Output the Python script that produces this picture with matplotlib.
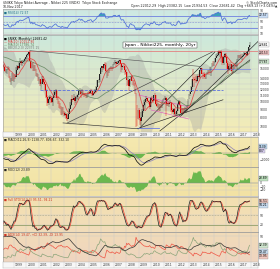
import numpy as np
import pandas as pd
import matplotlib
matplotlib.use("Agg")
import matplotlib.pyplot as plt
from matplotlib.colors import LinearSegmentedColormap
from matplotlib.ticker import FixedLocator, NullLocator, FuncFormatter

# ---------------- data (monthly Nikkei 225) ----------------
close_warmup = [20229, 19997, 19112, 19725, 20974, 20644, 20462, 20629, 19564, 19990, 19076, 19723,
                18649, 16809, 16140, 16807, 15437, 14517, 16678, 18117, 17913, 17655, 18744, 19868]
start_year = 1996
close = [20813, 20125, 21407, 22041, 21956, 22531, 20693, 20167, 21556, 20467, 21020, 19361,
         18330, 18557, 18003, 19151, 20069, 20605, 20331, 18229, 17888, 16459, 16636, 15259,
         16628, 16832, 16527, 15641, 15671, 15830, 16379, 14108, 13406, 13565, 14884, 13842,
         14499, 14367, 15836, 16701, 16111, 17529, 17862, 17436, 17605, 17942, 18558, 18934,
         19539, 19959, 20337, 17974, 16332, 17411, 15727, 16861, 15747, 14539, 14649, 13785,
         13843, 12883, 12999, 13934, 13262, 12969, 11860, 10713, 9774, 10366, 10697, 10542,
         9997, 10587, 11024, 11492, 11763, 10621, 9877, 9619, 9383, 8640, 9215, 8578,
         8339, 8363, 7972, 7831, 8424, 9083, 9563, 10343, 10219, 10560, 10100, 10676,
         10783, 11041, 11715, 11761, 11236, 11858, 11325, 11081, 10823, 10771, 11068, 11488,
         11387, 11740, 11668, 11008, 11276, 11584, 11899, 12413, 13574, 13606, 14872, 16111,
         16649, 16205, 17059, 16906, 15467, 15505, 15456, 16140, 16127, 16399, 16274, 17225,
         17383, 17604, 17287, 17400, 17875, 18138, 17248, 16569, 16785, 16737, 15680, 15307,
         13592, 13603, 12525, 13849, 14338, 13481, 13376, 13072, 11259, 8576, 8512, 8859,
         7994, 7568, 8109, 8828, 9522, 9958, 10356, 10492, 10133, 10034, 9345, 10546,
         10198, 10126, 11089, 11057, 9768, 9382, 9537, 8824, 9369, 9202, 9937, 10228,
         10237, 10624, 9755, 9849, 9693, 9816, 9833, 8955, 8700, 8988, 8434, 8455,
         8803, 9723, 10083, 9521, 8543, 9007, 8695, 8840, 8870, 8928, 9446, 10395,
         11139, 11559, 12398, 13861, 13775, 13677, 13668, 13389, 14456, 14328, 15662, 16291,
         14915, 14841, 14828, 14304, 14632, 15162, 15621, 15425, 16174, 16414, 17460, 17451,
         17674, 18798, 19207, 19520, 20563, 20236, 20585, 18890, 17388, 19083, 19747, 19034,
         17518, 16027, 16759, 16666, 17235, 15576, 16569, 16887, 16450, 17425, 18308, 19114,
         19041, 19119, 18909, 19197, 19651, 20033, 19925, 19646, 20356, 22012, 22681]
high = [20950, 21100, 21500, 22250, 22400, 22750, 22600, 21300, 21800, 21700, 21300, 21050,
        19600, 18900, 18700, 19300, 20300, 20900, 20700, 20400, 18600, 18300, 17000, 16800,
        16900, 17300, 17100, 16600, 16000, 15950, 16800, 16400, 14400, 14000, 15200, 14900,
        14700, 14600, 16400, 16900, 16800, 17800, 18600, 18000, 18100, 18100, 18800, 19000,
        19700, 20100, 20500, 20833, 18200, 17500, 17600, 16900, 16900, 16000, 15000, 14900,
        14200, 13900, 13300, 14500, 14500, 13600, 13000, 12000, 11000, 10900, 11100, 10800,
        10900, 10700, 11900, 11700, 12000, 11900, 10900, 10100, 9800, 9450, 9300, 9300,
        8800, 8600, 8500, 8300, 8500, 9200, 10000, 10400, 11100, 11200, 10800, 10800,
        11000, 11200, 11800, 12200, 11800, 12000, 11900, 11400, 11300, 11200, 11200, 11500,
        11600, 11800, 12000, 11900, 11300, 11700, 11950, 12500, 13600, 13900, 14900, 16400,
        16700, 16800, 17100, 17600, 17500, 15600, 15700, 16300, 16400, 16800, 16500, 17300,
        17600, 18300, 17700, 17900, 17900, 18300, 18262, 17500, 16900, 17500, 16800, 16100,
        15400, 14100, 13700, 13900, 14400, 14600, 13600, 13600, 13100, 11300, 9500, 8900,
        9100, 8100, 8600, 9000, 9600, 10200, 10400, 10800, 10600, 10300, 10100, 10700,
        10900, 10300, 11100, 11400, 11100, 10300, 9800, 9700, 9700, 9700, 10100, 10400,
        10600, 10900, 10700, 9900, 10100, 9900, 10200, 10000, 9100, 9100, 9100, 8700,
        8900, 9900, 10300, 10100, 9600, 9100, 9100, 9200, 9300, 9100, 9500, 10450,
        11200, 11700, 12600, 13900, 15900, 14300, 14900, 14500, 14800, 14800, 15700, 16320,
        16300, 15000, 15300, 15000, 14700, 15400, 15700, 15700, 16400, 16500, 17500, 18000,
        17900, 18800, 19800, 20200, 20600, 20950, 20800, 20950, 18900, 19100, 20000, 20000,
        19100, 17900, 17300, 17600, 17300, 17300, 16900, 17000, 17100, 17500, 18400, 19600,
        19600, 19500, 19700, 19300, 19900, 20300, 20200, 20100, 20500, 22050, 23382]
low = [19700, 19750, 19900, 21200, 21500, 21800, 20500, 20000, 20100, 20300, 20100, 19300,
       17300, 17800, 17600, 17300, 19000, 19900, 19800, 18100, 17100, 16300, 14800, 14700,
       14500, 16200, 16100, 15400, 15000, 14900, 15800, 14000, 13200, 12800, 13600, 13500,
       13200, 13800, 14200, 15800, 15900, 16000, 17400, 16900, 16800, 17200, 17900, 18200,
       18500, 19400, 19200, 17900, 16000, 16200, 15600, 15600, 15600, 14500, 14200, 13400,
       13000, 12600, 11800, 12900, 13100, 12700, 11600, 10600, 9400, 9600, 10200, 9900,
       9800, 9420, 10500, 10800, 11200, 10300, 9700, 9100, 9000, 8300, 8300, 8400,
       8200, 8200, 7800, 7600, 7800, 8400, 9000, 9400, 10000, 10200, 9600, 9900,
       10400, 10300, 11000, 11600, 10500, 11100, 11000, 10700, 10800, 10600, 10600, 10800,
       11200, 11300, 11600, 10800, 10800, 11200, 11500, 11700, 12300, 13100, 13300, 14800,
       15300, 15700, 15900, 16700, 15300, 14000, 14400, 15000, 15600, 16100, 15600, 16100,
       16900, 17200, 16500, 17100, 17200, 17600, 17100, 15300, 15800, 16300, 14700, 14800,
       12500, 12800, 11700, 12400, 13600, 13400, 12700, 12600, 11200, 6994, 7100, 7800,
       7700, 7200, 7050, 8000, 8500, 9400, 9000, 10100, 9900, 9700, 9000, 9300,
       10100, 9800, 10100, 10900, 9500, 9300, 9100, 8800, 8800, 9100, 9100, 9900,
       10200, 10200, 8200, 9400, 9400, 9300, 9800, 8600, 8400, 8300, 8100, 8150,
       8300, 8800, 9600, 9400, 8500, 8300, 8400, 8500, 8600, 8500, 8600, 9400,
       10350, 10900, 11500, 12000, 13500, 12400, 13500, 13100, 13200, 13800, 14000, 15500,
       14800, 13900, 14200, 13900, 13950, 14600, 15000, 14750, 15400, 14500, 16400, 16700,
       16600, 17400, 18700, 19000, 19300, 19900, 19100, 17700, 16900, 17000, 18700, 18600,
       16000, 14900, 15800, 15500, 16000, 14860, 15000, 16000, 16100, 16400, 16100, 18300,
       18700, 18800, 18800, 18200, 19100, 19600, 19800, 19200, 19200, 20300, 21900]

year_labels = list(range(1999, 2019))
chart_title = "Japan - Nikkei225, monthly, 20yr"
main_ticks = [7000, 8000, 9000, 10000, 11000, 12000, 13000, 14000, 16000, 18000, 20000, 22000, 24000]
# drawn annotation lines: (year0, price0, year1, price1, colour, style)
trend_lines = [
    (2000.3, 20800, 2013.9, 16600, '#5c5c5c', '-'),
    (2002.95, 7400, 2009.0, 6800, '#333333', '-'),
    (2010.7, 6600, 2017.9, 18200, '#222222', '-'),
    (2012.3, 8070, 2018.55, 23700, '#222222', '-'),
    (2009.1, 6900, 2015.1, 20400, '#222222', '-'),
    (2003.27, 7380, 2014.9, 20400, '#444444', '-'),
    (2009.1, 6900, 2015.75, 10300, '#222222', '-'),
    (2009.0, 11040, 2013.0, 9300, '#e060c0', '-'),
    (2010.0, 8900, 2013.0, 7830, '#e060c0', '-'),
]
level_lines = [  # (price, year0, year1, colour, style)
    (20600, 1998.15, 2018.55, '#e38080', '-'),
    (11850, 2001.1, 2015.75, '#5a6fe0', '--'),
    (6850, 2008.9, 2010.6, '#6a7ae0', '-'),
    (16000, 2013.9, 2017.9, '#8090e0', '-'),
]

# ---------------- indicators ----------------
n_w = len(close_warmup)
c_all = pd.Series(close_warmup + close, dtype=float)
t_all = 1994 + (np.arange(len(c_all)) + 0.5) / 12.0
c = np.array(close, float)
h = np.array(high, float)
l = np.array(low, float)
t = start_year + (np.arange(len(c)) + 0.5) / 12.0
o = np.r_[close_warmup[-1], c[:-1]]
h = np.maximum(h, np.maximum(o, c))
l = np.minimum(l, np.minimum(o, c))

d = c_all.diff()
up_avg = d.clip(lower=0).ewm(alpha=1/14, adjust=False).mean()
dn_avg = (-d.clip(upper=0)).ewm(alpha=1/14, adjust=False).mean()
rsi = (100 - 100 / (1 + up_avg / dn_avg)).values

sma10 = c_all.rolling(10).mean().values
sma50 = c_all.rolling(50).mean().values
sma20 = c_all.rolling(20).mean()
sd20 = c_all.rolling(20).std(ddof=0)
bb_up = (sma20 + 2 * sd20).values
bb_lo = (sma20 - 2 * sd20).values

ema12 = c_all.ewm(span=12, adjust=False).mean()
ema26 = c_all.ewm(span=26, adjust=False).mean()
macd = ema12 - ema26
sig = macd.ewm(span=9, adjust=False).mean()
hist = (macd - sig).values
macd = macd.values
sig = sig.values
roc = (100 * (c_all / c_all.shift(12) - 1)).values

hS, lS, cS = pd.Series(h), pd.Series(l), pd.Series(c)
ll = lS.rolling(14).min()
hh = hS.rolling(14).max()
fastk = 100 * (cS - ll) / (hh - ll)
slowk = fastk.rolling(3).mean()
slowd = slowk.rolling(3).mean()

prev_c = pd.Series(o)
tr = pd.concat([hS - lS, (hS - prev_c).abs(), (lS - prev_c).abs()], axis=1).max(axis=1)
upm = hS.diff()
dnm = -lS.diff()
pdm = pd.Series(np.where((upm > dnm) & (upm > 0), upm, 0.0))
mdm = pd.Series(np.where((dnm > upm) & (dnm > 0), dnm, 0.0))
atr = tr.ewm(alpha=1/14, adjust=False).mean()
pdi = 100 * pdm.ewm(alpha=1/14, adjust=False).mean() / atr
mdi = 100 * mdm.ewm(alpha=1/14, adjust=False).mean() / atr
dx = 100 * (pdi - mdi).abs() / (pdi + mdi)
adx = dx.ewm(alpha=1/14, adjust=False).mean()

# ---------------- figure ----------------
W, H = 280, 269
fig = plt.figure(figsize=(W / 100, H / 100), dpi=100)
fig.patch.set_facecolor('white')
X0, X1 = 1998.15, 2018.55
LEFT, RIGHT = 3, 258
FS = 2.2


def rect(top, bottom, left=LEFT, right=RIGHT):
    return [left / W, 1 - bottom / H, (right - left) / W, (bottom - top) / H]


def panel(top, bottom, c_top, c_bot, logy=False):
    bg = fig.add_axes(rect(top, bottom), zorder=0)
    cmap = LinearSegmentedColormap.from_list('bg', [c_bot, c_top])
    bg.imshow(np.linspace(0, 1, 128).reshape(-1, 1), cmap=cmap, aspect='auto',
              origin='lower', extent=[0, 1, 0, 1])
    bg.set_axis_off()
    ax = fig.add_axes(rect(top, bottom), zorder=1)
    ax.set_facecolor('none')
    if logy:
        ax.set_yscale('log')
    for s in ax.spines.values():
        s.set_color('#9a9a9a')
        s.set_linewidth(0.4)
    ax.set_xlim(X0, X1)
    ax.yaxis.tick_right()
    ax.tick_params(axis='y', labelsize=FS, length=0, pad=1.2, labelcolor='#333333')
    ax.set_xticks(year_labels)
    ax.tick_params(axis='x', labelbottom=False, length=0)
    ax.grid(True, color='#c9c9c9', lw=0.3)
    ax.set_axisbelow(True)
    return ax


def px_y(ax, v):
    return ax.transData.transform((X0, v))[1]


def boxes_and_ticks(ax, ticks, items, gap=4.2):
    """items: list of (value, text, facecolour). Spreads boxes apart and drops ticks under them."""
    ys = [px_y(ax, v) for v, _, _ in items]
    order = np.argsort(ys)[::-1]
    placed = {}
    last = None
    for i in order:
        y = ys[i]
        if last is not None and last - y < gap:
            y = last - gap
        placed[i] = y
        last = y
    keep = [tk for tk in ticks if all(abs(px_y(ax, tk) - yb) > gap for yb in placed.values())]
    ax.yaxis.set_major_locator(FixedLocator(keep))
    ax.yaxis.set_minor_locator(NullLocator())
    inv = ax.transAxes.inverted()
    for i, (v, txt, fc) in enumerate(items):
        ya = inv.transform((0, placed[i]))[1]
        ax.text(1.004, ya, txt, transform=ax.transAxes, fontsize=FS, color='black',
                va='center', ha='left', clip_on=False,
                bbox=dict(boxstyle='square,pad=0.15', fc=fc, ec='#777777', lw=0.2))


def strip(top, bottom):
    ax = fig.add_axes(rect(top, bottom), zorder=1)
    ax.set_xlim(X0, X1)
    ax.set_ylim(0, 1)
    ax.set_facecolor('#f7f7f7')
    for s in ax.spines.values():
        s.set_color('#b0b0b0')
        s.set_linewidth(0.3)
    ax.set_xticks([])
    ax.set_yticks([])
    for yr in year_labels:
        ax.axvline(yr, color='#c8c8c8', lw=0.3)
        if yr < X1 - 0.5:
            ax.text(yr + 0.12, 0.5, str(yr), fontsize=FS, va='center', ha='left', color='#333333')
    return ax


sl = slice(n_w, None)

# ---- title lines ----
fig.text(3 / W, 1 - 3 / H, "$NIKK Tokyo Nikkei Average - Nikkei 225 (INDX)  Tokyo Stock Exchange",
         fontsize=2.3, va='center', ha='left', color='#222222')
fig.text(3 / W, 1 - 6.5 / H, "10-Nov-2017", fontsize=2.3, va='center', ha='left', color='#222222')
fig.text(277 / W, 1 - 3 / H, "\u00a9 StockCharts.com", fontsize=2.3, va='center', ha='right', color='#222222')
fig.text(277 / W, 1 - 6.5 / H,
         "Open 22012.29  High 23382.15  Low 21934.53  Close 22681.42  Chg +669.13 (+3.04%)\u25b2",
         fontsize=2.3, va='center', ha='right', color='#222222')

# ---- RSI panel ----
ax_r = panel(9, 34, '#cde8e2', '#d6eee2')
r = rsi[sl]
ax_r.set_ylim(8, 95)
ax_r.axhline(70, color='#6f7fe0', lw=0.6)
ax_r.axhline(30, color='#6f7fe0', lw=0.6)
ax_r.axhline(50, color='#8090d8', lw=0.4, ls=(0, (3, 2)))
ax_r.fill_between(t, r, 70, where=r > 70, color='#3aa0b8', lw=0, interpolate=True)
ax_r.fill_between(t, r, 30, where=r < 30, color='#3aa0b8', lw=0, interpolate=True)
ax_r.plot(t, r, color='#4f6fd8', lw=0.55)
ax_r.text(0.004, 0.92, "\u25a0 RSI(14) %.2f" % r[-1], transform=ax_r.transAxes, fontsize=FS,
          color='#1d6f8a', va='top')
boxes_and_ticks(ax_r, [10, 30, 50, 70, 90], [(r[-1], "%.2f" % r[-1], '#c8dcf5')])

# ---- main panel ----
ax_m = panel(35, 132, '#cce8dc', '#f4ecb6', logy=True)
ax_m.set_ylim(6500, 26000)
ax_m.yaxis.set_major_formatter(FuncFormatter(lambda v, p: "%d" % v))
ax_m.fill_between(t_all, bb_lo, bb_up, color='#9c9c9c', alpha=0.32, lw=0)
for (pv, x0, x1, col, ls) in level_lines:
    ax_m.plot([x0, x1], [pv, pv], color=col, lw=0.6, ls=ls)
for (x0, p0, x1, p1, col, ls) in trend_lines:
    ax_m.plot([x0, x1], [p0, p1], color=col, lw=0.45, ls=ls)
ax_m.plot(t_all, sma50, color='#6f8f6a', lw=0.55)
ax_m.plot(t_all, sma10, color='#e04848', lw=0.55)
upc = c >= o
ax_m.vlines(t[upc], l[upc], h[upc], color='#222222', lw=0.3)
ax_m.vlines(t[~upc], l[~upc], h[~upc], color='#dd0000', lw=0.3)
ax_m.bar(t[upc], c[upc] - o[upc], bottom=o[upc], width=0.05, color='#222222', lw=0)
ax_m.bar(t[~upc], o[~upc] - c[~upc], bottom=c[~upc], width=0.06, color='#e00000', lw=0)
ax_m.set_xlim(X0, X1)
ax_m.set_ylim(6500, 26000)
ax_m.text(0.004, 0.975, "\u25a0 $NIKK (Monthly) 22681.42", transform=ax_m.transAxes, fontsize=FS,
          color='black', va='top')
ax_m.text(0.004, 0.945, "\u2014 MA(10) %.2f" % sma10[-1], transform=ax_m.transAxes, fontsize=FS,
          color='#d03030', va='top')
ax_m.text(0.004, 0.915, "\u2014 MA(50) %.2f" % sma50[-1], transform=ax_m.transAxes, fontsize=FS,
          color='#5f7f5a', va='top')
ax_m.text(0.004, 0.885, "\u2014 BB(20,2.0) %.2f" % bb_up[-1], transform=ax_m.transAxes, fontsize=FS,
          color='#777777', va='top')
ax_m.text(0.616, 0.897, chart_title, transform=ax_m.transAxes, fontsize=3.2, ha='center',
          va='center', color='black',
          bbox=dict(boxstyle='square,pad=0.3', fc='white', ec='#333333', lw=0.3))
boxes_and_ticks(ax_m, main_ticks, [(c[-1], "%.0f" % c[-1], 'white'),
                                   (sma10[-1], "%.0f" % sma10[-1], '#f5c8c8'),
                                   (sma50[-1], "%.0f" % sma50[-1], '#cfe6cf')])

# ---- date strip ----
strip(132, 137)

# ---- MACD ----
ax_c = panel(137, 167, '#f5e9b0', '#f2e3a6')
mc, sg, hs = macd[sl], sig[sl], hist[sl]
lim = np.nanmax(np.abs(np.r_[mc, sg])) * 1.15
ax_c.set_ylim(-lim, lim * 1.2)
ax_c.axhline(0, color='#888888', lw=0.3)
ax_c.fill_between(t, 0, hs, color='#6cb84e', lw=0)
ax_c.plot(t, sg, color='#9488b8', lw=0.55)
ax_c.plot(t, mc, color='#111111', lw=0.55)
ax_c.text(0.004, 0.97, "\u25a0 MACD(12,26,9) %.2f, %.2f, %.2f" % (mc[-1], sg[-1], hs[-1]),
          transform=ax_c.transAxes, fontsize=FS, color='#222222', va='top')
boxes_and_ticks(ax_c, [-1000, 0, 1000], [(mc[-1], "%.0f" % mc[-1], '#bcd8f0'),
                                         (sg[-1], "%.0f" % sg[-1], '#d8d0ee')])

# ---- ROC ----
ax_o = panel(167, 196, '#f4e7ac', '#f2e2a4')
ro = roc[sl]
lim2 = np.nanmax(np.abs(ro)) * 1.1
ax_o.set_ylim(-lim2, lim2 * 1.15)
ax_o.axhline(0, color='#888888', lw=0.3)
ax_o.fill_between(t, 0, ro, color='#6cb84e', lw=0)
ax_o.text(0.004, 0.97, "\u25a0 ROC(12) %.2f" % ro[-1], transform=ax_o.transAxes, fontsize=FS,
          color='#222222', va='top')
boxes_and_ticks(ax_o, [-40, -20, 0, 20, 40], [(ro[-1], "%.2f" % ro[-1], '#bfe3c0')])

# ---- Stochastic ----
ax_s = panel(197, 232, '#f3e0b0', '#f1dcba')
ax_s.set_ylim(-2, 108)
ax_s.axhline(80, color='#93a06a', lw=0.6)
ax_s.axhline(20, color='#93a06a', lw=0.6)
ax_s.axhline(50, color='#a8a88a', lw=0.4, ls=(0, (3, 2)))
ax_s.plot(t, slowd.values, color='#ee5544', lw=0.6)
ax_s.plot(t, slowk.values, color='#222222', lw=0.5)
ax_s.text(0.004, 0.97, "\u25a0 Full STO(14,3,3) %.2f, %.2f" % (slowk.values[-1], slowd.values[-1]),
          transform=ax_s.transAxes, fontsize=FS, color='#cc3322', va='top')
boxes_and_ticks(ax_s, [20, 50, 80], [(slowk.values[-1], "%.2f" % slowk.values[-1], '#f2c8c0'),
                                     (slowd.values[-1], "%.2f" % slowd.values[-1], '#c8dcf0')])

# ---- ADX ----
ax_a = panel(232, 262, '#f1dbb8', '#efd5c0')
ax_a.set_ylim(0, 58)
ax_a.plot(t, mdi.values, color='#ee5544', lw=0.5)
ax_a.plot(t, pdi.values, color='#8ca57a', lw=0.5)
ax_a.plot(t, adx.values, color='#333333', lw=0.5)
ax_a.text(0.004, 0.97, "\u25a0 ADX(14) %.2f, +DI %.2f, -DI %.2f" % (adx.values[-1], pdi.values[-1], mdi.values[-1]),
          transform=ax_a.transAxes, fontsize=FS, color='#cc3322', va='top')
boxes_and_ticks(ax_a, [10, 20, 30, 40, 50], [(pdi.values[-1], "%.2f" % pdi.values[-1], '#cfe6cf'),
                                             (adx.values[-1], "%.2f" % adx.values[-1], '#c8dcf0'),
                                             (mdi.values[-1], "%.2f" % mdi.values[-1], '#f2c8c0')])

# ---- bottom date strip ----
strip(262, 268)

fig.savefig("out.png", dpi=100, facecolor='white')
